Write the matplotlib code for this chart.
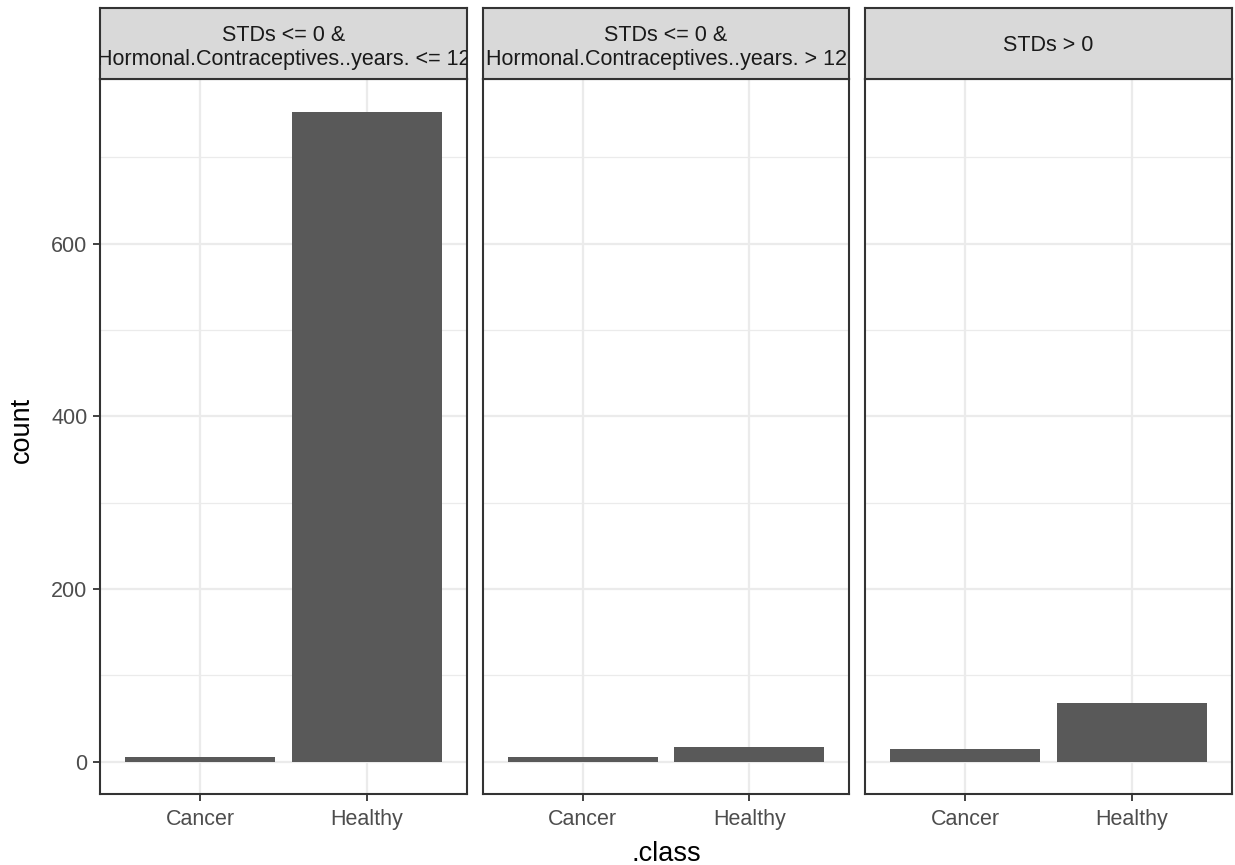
import matplotlib
matplotlib.use("Agg")
import matplotlib.pyplot as plt
from matplotlib.ticker import MultipleLocator

plt.rcParams['font.family'] = ['Liberation Sans', 'DejaVu Sans']

panels = ["STDs <= 0 &\nHormonal.Contraceptives..years. <= 12",
          "STDs <= 0 &\nHormonal.Contraceptives..years. > 12",
          "STDs > 0"]
classes = ["Cancer", "Healthy"]
cancer_counts = [5, 5, 14]
healthy_counts = [753, 17, 68]

W, H = 1235, 865
fig = plt.figure(figsize=(W / 100, H / 100), dpi=100)

panel_x = [(100, 467), (483, 849), (865, 1232)]
top_strip, top_panel, bottom_panel = 8, 79, 794

ymax = max(healthy_counts)
yrange = (-0.05 * ymax, 1.05 * ymax)

def fx(x):
    return x / W

def fy(y):
    return 1 - y / H

for i, (x0, x1) in enumerate(panel_x):
    ax = fig.add_axes([fx(x0), fy(bottom_panel), fx(x1 - x0), (bottom_panel - top_panel) / H])
    vals = [cancer_counts[i], healthy_counts[i]]
    ax.set_axisbelow(True)
    ax.bar(range(len(classes)), vals, width=0.9, color='#595959', zorder=3)
    ax.set_xlim(-0.6, 1.6)
    ax.set_ylim(*yrange)
    ax.set_xticks(range(len(classes)))
    ax.set_xticklabels(classes)
    ax.yaxis.set_major_locator(MultipleLocator(200))
    ax.yaxis.set_minor_locator(MultipleLocator(100))
    ax.grid(which='major', color='#EBEBEB', linewidth=1.6)
    ax.grid(which='minor', axis='y', color='#EBEBEB', linewidth=0.9)
    ax.tick_params(which='minor', length=0)
    ax.tick_params(which='major', length=5, width=1.3, color='#333333',
                   labelcolor='#4D4D4D', labelsize=15.5)
    ax.tick_params(axis='x', pad=6)
    ax.tick_params(axis='y', pad=4)
    if i > 0:
        ax.tick_params(axis='y', which='both', left=False, labelleft=False)
    for s in ax.spines.values():
        s.set_color('#333333')
        s.set_linewidth(1.5)
    ax.set_facecolor('white')

    sax = fig.add_axes([fx(x0), fy(top_panel), fx(x1 - x0), (top_panel - top_strip) / H])
    sax.set_facecolor('#D9D9D9')
    sax.set_xticks([])
    sax.set_yticks([])
    for s in sax.spines.values():
        s.set_color('#333333')
        s.set_linewidth(1.5)
    ypos = 0.445 if '\n' in panels[i] else 0.47
    t = sax.text(0.5, ypos, panels[i], ha='center', va='center', multialignment='center',
                 fontsize=15.5, color='#1A1A1A', transform=sax.transAxes, linespacing=1.2)
    t.set_clip_on(True)

fig.text(fx(666), fy(854), '.class', ha='center', va='center', fontsize=19.5, color='black')
fig.text(fx(22), fy(430), 'count', ha='center', va='center', rotation=90, fontsize=19.5, color='black')

fig.savefig('out.png', dpi=100, facecolor='white')
